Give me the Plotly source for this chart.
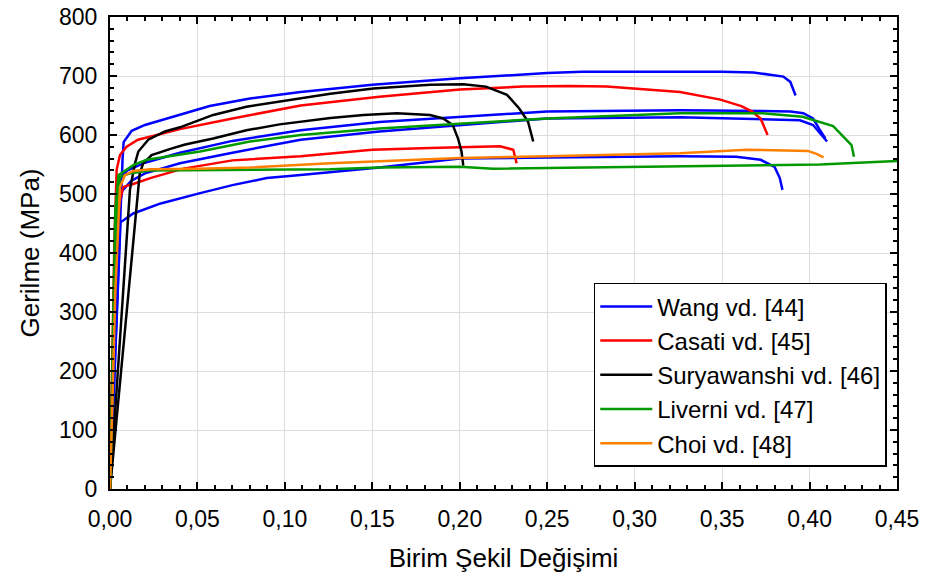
import plotly.graph_objects as go

# Stress-strain curves (strain [-], stress [MPa]) for each study
wang1_x = [0, 0.006, 0.0072, 0.0078, 0.0124, 0.02, 0.043, 0.057, 0.08, 0.109, 0.15, 0.2, 0.25, 0.27, 0.35, 0.368, 0.385, 0.389, 0.392]
wang1_y = [0, 480, 560, 588, 607, 617, 637, 649, 662, 673, 685, 696, 705, 707, 707, 706, 699, 690, 667]
wang2_x = [0, 0.004, 0.0057, 0.01, 0.02, 0.04, 0.07, 0.109, 0.154, 0.25, 0.326, 0.389, 0.3964, 0.402, 0.406, 0.409]
wang2_y = [0, 480, 527, 540, 553, 570, 590, 608, 622, 640, 642, 640, 637, 628, 608, 594]
wang3_x = [0, 0.005, 0.007, 0.012, 0.02, 0.04, 0.07, 0.109, 0.154, 0.25, 0.326, 0.38, 0.3945, 0.402, 0.406, 0.41]
wang3_y = [0, 470, 505, 522, 535, 552, 570, 592, 606, 628, 630, 627, 625, 617, 603, 589]
wang4_x = [0, 0.0055, 0.006, 0.0133, 0.029, 0.051, 0.07, 0.0896, 0.109, 0.154, 0.2, 0.25, 0.326, 0.358, 0.372, 0.38, 0.383, 0.3845]
wang4_y = [0, 435, 452, 467, 484, 501, 515, 527, 532, 545, 560, 562, 564, 563, 558, 546, 527, 507]

casati1_x = [0, 0.0025, 0.0038, 0.0057, 0.0095, 0.016, 0.04, 0.07, 0.109, 0.154, 0.2, 0.236, 0.263, 0.284, 0.326, 0.349, 0.361, 0.367, 0.372, 0.376]
casati1_y = [0, 420, 541, 566, 580, 592, 610, 628, 650, 665, 677, 682, 683, 682, 673, 660, 649, 640, 628, 600]
casati2_x = [0, 0.003, 0.0057, 0.0076, 0.0133, 0.023, 0.042, 0.07, 0.109, 0.126, 0.15, 0.183, 0.223, 0.2306, 0.2325]
casati2_y = [0, 420, 490, 512, 517, 527, 543, 557, 564, 569, 575, 578, 581, 575, 552]

surya1_x = [0, 0.0114, 0.0143, 0.0162, 0.0219, 0.0314, 0.04, 0.059, 0.078, 0.109, 0.126, 0.1505, 0.183, 0.202, 0.215, 0.227, 0.234, 0.239, 0.242]
surya1_y = [0, 507, 552, 572, 592, 606, 613, 634, 648, 663, 670, 679, 685, 686, 682, 668, 645, 623, 589]
surya2_x = [0, 0.0158, 0.017, 0.019, 0.0238, 0.035, 0.043, 0.059, 0.078, 0.097, 0.109, 0.126, 0.145, 0.164, 0.183, 0.1905, 0.196, 0.199, 0.201, 0.202]
surya2_y = [0, 505, 535, 552, 566, 577, 584, 594, 608, 618, 623, 629, 634, 637, 634, 628, 617, 594, 572, 548]

liverni1_x = [0, 0.003, 0.0048, 0.0133, 0.021, 0.0515, 0.08, 0.109, 0.154, 0.2, 0.25, 0.326, 0.373, 0.396, 0.4135, 0.424, 0.4254]
liverni1_y = [0, 470, 532, 549, 558, 572, 589, 600, 611, 619, 628, 637, 637, 631, 615, 583, 563]
liverni2_x = [0, 0.004, 0.0057, 0.0114, 0.0229, 0.08, 0.126, 0.154, 0.2, 0.219, 0.269, 0.326, 0.406, 0.45]
liverni2_y = [0, 480, 529, 535, 540, 541, 542, 545, 546, 543, 545, 547, 550, 556]

choi_x = [0, 0.003, 0.0057, 0.0086, 0.0133, 0.023, 0.05, 0.08, 0.126, 0.154, 0.2, 0.25, 0.326, 0.364, 0.399, 0.404, 0.408]
choi_y = [0, 330, 512, 532, 539, 542, 543, 545, 552, 555, 561, 564, 569, 575, 573, 568, 562]

series_names = ["Wang vd. [44]", "Casati vd. [45]", "Suryawanshi vd. [46]", "Liverni vd. [47]", "Choi vd. [48]"]
series_colors = ["#0000ff", "#ff0000", "#000000", "#009a00", "#ff8000"]
series_curves = [
    [(wang1_x, wang1_y), (wang2_x, wang2_y), (wang3_x, wang3_y), (wang4_x, wang4_y)],
    [(casati1_x, casati1_y), (casati2_x, casati2_y)],
    [(surya1_x, surya1_y), (surya2_x, surya2_y)],
    [(liverni1_x, liverni1_y), (liverni2_x, liverni2_y)],
    [(choi_x, choi_y)],
]

x_ticks = [0, 0.05, 0.10, 0.15, 0.20, 0.25, 0.30, 0.35, 0.40, 0.45]
y_ticks = [0, 100, 200, 300, 400, 500, 600, 700, 800]

FONT = "Liberation Sans, Arial, sans-serif"

fig = go.Figure()
for name, color, curves in zip(series_names, series_colors, series_curves):
    for i, (xs, ys) in enumerate(curves):
        fig.add_trace(go.Scatter(
            x=xs, y=ys, mode="lines", name=name, legendgroup=name,
            showlegend=(i == 0),
            line=dict(color=color, width=2.5),
            cliponaxis=True,
        ))

axis_common = dict(
    showline=True, linecolor="black", linewidth=2, mirror="allticks",
    ticks="inside", ticklen=7, tickwidth=2, tickcolor="black",
    showgrid=True, gridcolor="#dddddd", gridwidth=1,
    zeroline=False, automargin=False,
    tickfont=dict(family=FONT, size=23, color="black"),
)

fig.update_xaxes(
    **axis_common,
    range=[0, 0.45], tickvals=x_ticks, tickformat=".2f",
    ticklabelstandoff=8,
    minor=dict(ticks="inside", dtick=0.01, ticklen=4, tickwidth=1.5, tickcolor="black", showgrid=False),
    title=dict(text="Birim Şekil Değişimi", font=dict(family=FONT, size=26, color="black"), standoff=18),
)
fig.update_yaxes(
    **axis_common,
    range=[0, 800], tickvals=y_ticks, tickformat="d",
    ticklabelstandoff=6,
    minor=dict(ticks="inside", dtick=20, ticklen=4, tickwidth=1.5, tickcolor="black", showgrid=False),
    title=dict(text="Gerilme (MPa)", font=dict(family=FONT, size=26, color="black"), standoff=12),
)

fig.update_layout(
    width=928, height=578,
    margin=dict(l=110, r=31, t=17, b=89),
    paper_bgcolor="white", plot_bgcolor="white",
    separators=",.",
    font=dict(family=FONT, color="black"),
    legend=dict(
        x=0.987, y=0.047, xanchor="right", yanchor="bottom",
        bgcolor="white", bordercolor="black", borderwidth=1.5,
        font=dict(family=FONT, size=24, color="black"),
        tracegroupgap=0, itemwidth=52,
    ),
    showlegend=True,
)

fig.write_html("out.html")
